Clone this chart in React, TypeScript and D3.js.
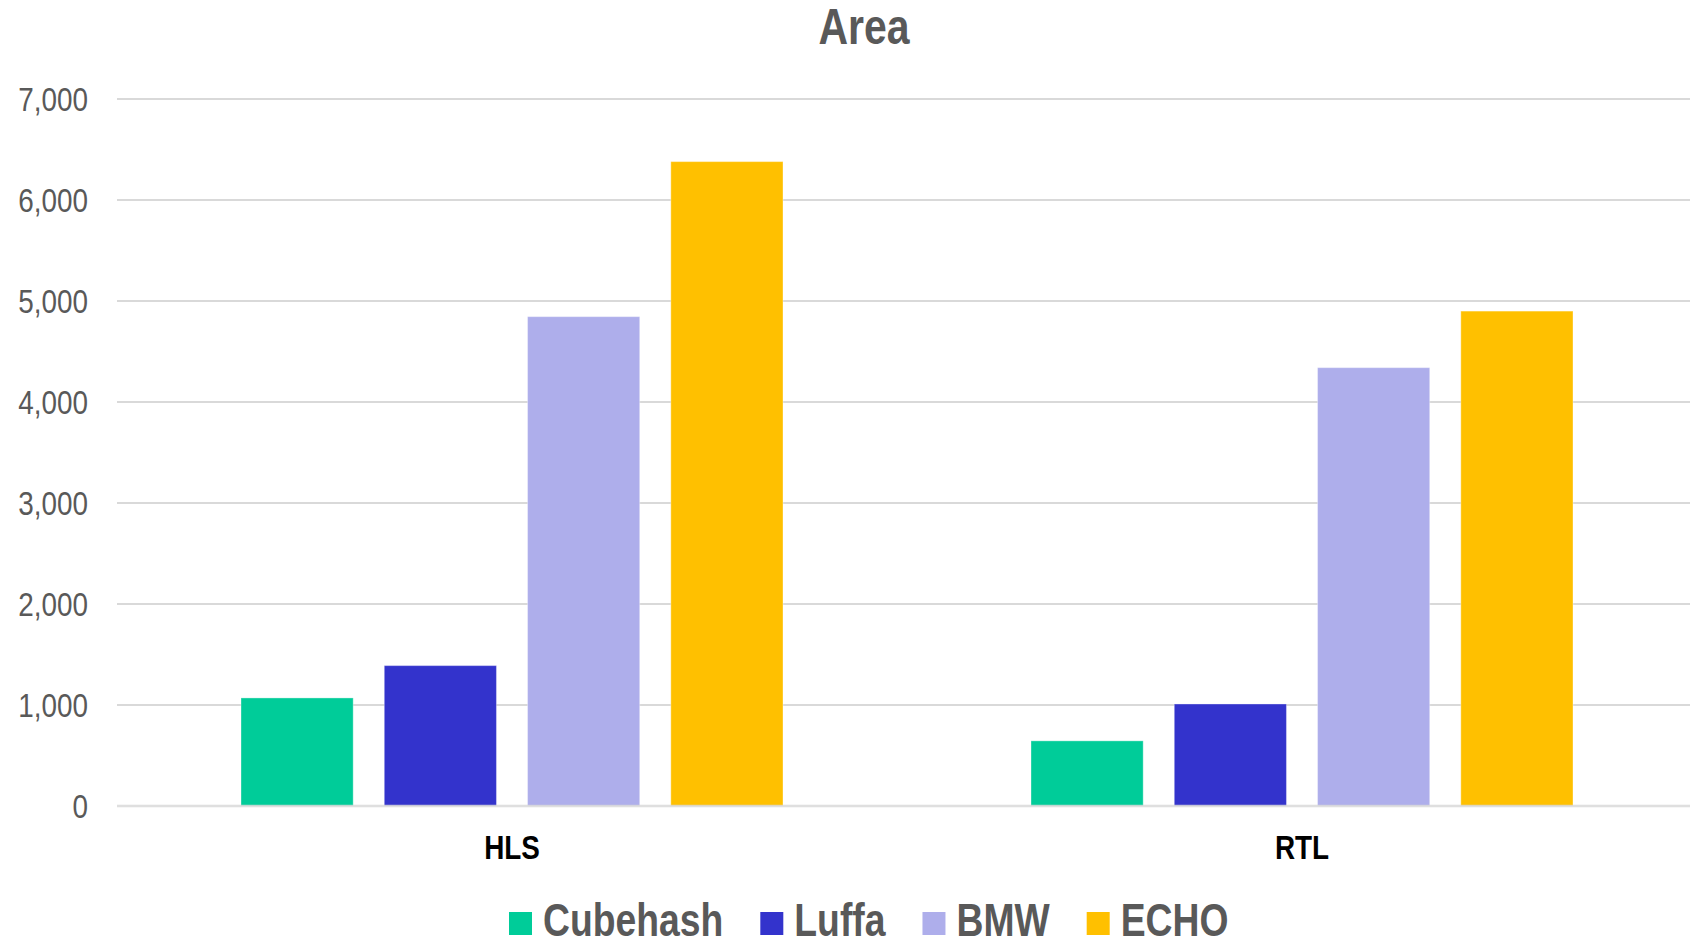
import React, { useEffect, useRef } from "react";
import * as d3 from "d3";

const categories = ["HLS", "RTL"];
const seriesNames = ["Cubehash", "Luffa", "BMW", "ECHO"];
const seriesColors = ["#00CC99", "#3333CC", "#AEAEEB", "#FFC000"];
const cubehash = [1070, 645];
const luffa = [1390, 1010];
const bmw = [4845, 4340];
const echo = [6380, 4900];
const yTicks = [0, 1000, 2000, 3000, 4000, 5000, 6000, 7000];

const seriesValues = [cubehash, luffa, bmw, echo];

const W = 1690;
const H = 946;
const FONT = "'Liberation Sans', Arial, sans-serif";
const NARROW = 0.82;

export default function App() {
  const ref = useRef<SVGSVGElement | null>(null);

  useEffect(() => {
    const svg = d3.select(ref.current);
    svg.selectAll("*").remove();

    const left = 117;
    const right = 1697;
    const top = 99;
    const bottom = 806;

    const x0 = d3.scaleBand<string>().domain(categories).range([left, right]).padding(0);
    const groupPad = 124;
    const x1 = d3
      .scaleBand<string>()
      .domain(seriesNames)
      .range([groupPad, x0.bandwidth() - groupPad])
      .paddingInner(0.217)
      .paddingOuter(0);
    const y = d3.scaleLinear().domain([0, 7000]).range([bottom, top]);

    svg.append("rect").attr("width", W).attr("height", H).attr("fill", "#ffffff");

    // Title
    svg
      .append("text")
      .attr("transform", `translate(864,44) scale(${NARROW},1)`)
      .attr("text-anchor", "middle")
      .attr("font-family", FONT)
      .attr("font-weight", "bold")
      .attr("font-size", 50)
      .attr("fill", "#595959")
      .text("Area");

    // Gridlines
    svg
      .append("g")
      .selectAll("line")
      .data(yTicks.filter((t) => t !== 0))
      .join("line")
      .attr("x1", left)
      .attr("x2", W)
      .attr("y1", (d) => y(d))
      .attr("y2", (d) => y(d))
      .attr("stroke", "#d9d9d9")
      .attr("stroke-width", 2);

    // Y tick labels
    svg
      .append("g")
      .selectAll("text")
      .data(yTicks)
      .join("text")
      .attr("transform", (d) => `translate(88,${y(d) + 12}) scale(${NARROW},1)`)
      .attr("text-anchor", "end")
      .attr("font-family", FONT)
      .attr("font-size", 34)
      .attr("fill", "#595959")
      .text((d) => d3.format(",")(d));

    // Bars
    const groups = svg
      .append("g")
      .selectAll("g")
      .data(categories)
      .join("g")
      .attr("transform", (d) => `translate(${x0(d)},0)`);

    groups
      .selectAll("rect")
      .data((_, ci) => seriesNames.map((s, si) => ({ s, si, v: seriesValues[si][ci] })))
      .join("rect")
      .attr("x", (d) => x1(d.s)!)
      .attr("width", x1.bandwidth())
      .attr("y", (d) => y(d.v))
      .attr("height", (d) => y(0) - y(d.v))
      .attr("fill", (d) => seriesColors[d.si])
      .attr("stroke", "rgba(255,255,255,0.35)")
      .attr("stroke-width", 1);

    // Zero baseline
    svg
      .append("line")
      .attr("x1", left)
      .attr("x2", W)
      .attr("y1", y(0))
      .attr("y2", y(0))
      .attr("stroke", "#d9d9d9")
      .attr("stroke-opacity", 0.85)
      .attr("stroke-width", 2.5);

    // Category labels
    svg
      .append("g")
      .selectAll("text")
      .data(categories)
      .join("text")
      .attr("transform", (d) => `translate(${x0(d)! + x0.bandwidth() / 2},859) scale(${NARROW},1)`)
      .attr("text-anchor", "middle")
      .attr("font-family", FONT)
      .attr("font-weight", "bold")
      .attr("font-size", 34)
      .attr("fill", "#000000")
      .text((d) => d);

    // Legend
    const legend = svg.append("g");
    let cx = 509;
    const sq = 23;
    seriesNames.forEach((name, i) => {
      legend
        .append("rect")
        .attr("x", cx)
        .attr("y", 912)
        .attr("width", sq)
        .attr("height", sq)
        .attr("fill", seriesColors[i]);
      const tx = cx + sq + 11;
      const t = legend
        .append("text")
        .attr("transform", `translate(${tx},936) scale(${NARROW},1)`)
        .attr("font-family", FONT)
        .attr("font-weight", "bold")
        .attr("font-size", 45.5)
        .attr("fill", "#595959")
        .text(name);
      const w = (t.node() as SVGTextElement).getComputedTextLength() * NARROW;
      cx = tx + w + 37;
    });
  }, []);

  return (
    <svg
      ref={ref}
      width={W}
      height={H}
      style={{ position: "fixed", left: 0, top: 0, display: "block" }}
    />
  );
}
